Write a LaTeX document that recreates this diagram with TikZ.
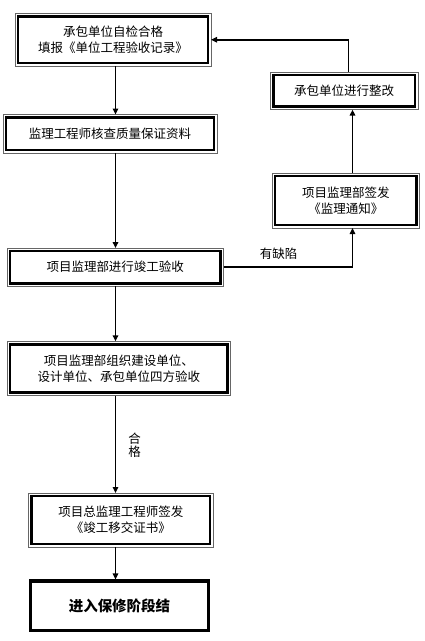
\documentclass[tikz,border=0pt]{standalone}
\usepackage{fontspec}
\setmainfont{Noto Sans CJK SC}
\usetikzlibrary{arrows.meta}
\tikzset{
  box/.style={draw=black, line width=2.8pt, inner sep=0pt, outer sep=3pt, align=center,
              font=\fontsize{12.5}{16}\selectfont},
  endbox/.style={draw=black, line width=3.3pt, inner sep=0pt, align=center,
              font=\fontsize{14.5}{17}\selectfont\bfseries},
  rim/.style={draw=black!60, line width=0.8pt},
  arr/.style={line width=1.8pt, -{Triangle[length=6pt,width=5.5pt]}},
  lbl/.style={font=\fontsize{12.5}{12.5}\selectfont, align=center, inner sep=0pt}
}
\begin{document}
\begin{tikzpicture}[x=1pt,y=-1pt]
\useasboundingbox (0,0) rectangle (425,641);
\node[box, minimum width=190pt, minimum height=46.5pt] (b1) at (113,39.75) {承包单位自检合格\\填报《单位工程验收记录》};
\node[box, minimum width=208pt, minimum height=32.5pt] (b2) at (110,133.75) {监理工程师核查质量保证资料};
\node[box, minimum width=210.5pt, minimum height=32.3pt] (b3) at (115.25,267.2) {项目监理部进行竣工验收};
\node[box, minimum width=141.7pt, minimum height=49pt] (b4) at (345.8,200.5) {项目监理部签发\\《监理通知》};
\node[box, minimum width=141.7pt, minimum height=31.7pt] (b5) at (344.2,90.8) {承包单位进行整改};
\node[box, minimum width=217.7pt, minimum height=48.4pt] (b6) at (118.8,368.5) {项目监理部组织建设单位、\\设计单位、承包单位四方验收};
\node[box, minimum width=178.3pt, minimum height=48pt] (b7) at (120.8,520) {项目总监理工程师签发\\《竣工移交证书》};
\node[endbox, minimum width=177.6pt, minimum height=49.3pt] (b8) at (119.5,605.7) {进入保修阶段结};
\foreach \n in {b1,b2,b3,b4,b5,b6,b7}
  \draw[rim] (\n.north west) rectangle (\n.south east);
\coordinate (sp) at (115.5,0);
\coordinate (rx) at (352.5,0);
\coordinate (rx2) at (348.5,0);
\draw[arr] (b1.south -| sp) -- (b2.north -| sp);
\draw[arr] (b2.south -| sp) -- (b3.north -| sp);
\draw[arr] (b3.south -| sp) -- (b6.north -| sp);
\draw[arr] (b6.south -| sp) -- (b7.north -| sp);
\draw[arr] (b7.south -| sp) -- (b8.north -| sp);
\draw[arr] (b3.east) -| (b4.south -| rx);
\draw[arr] (b4.north -| rx) -- (b5.south -| rx);
\draw[arr] (b5.north -| rx2) |- (b1.east);
\node[lbl] (l1) at (278.5,254) {有缺陷};
\node[lbl] (l2) at (134.5,445) {合\\格};
\end{tikzpicture}
\end{document}
